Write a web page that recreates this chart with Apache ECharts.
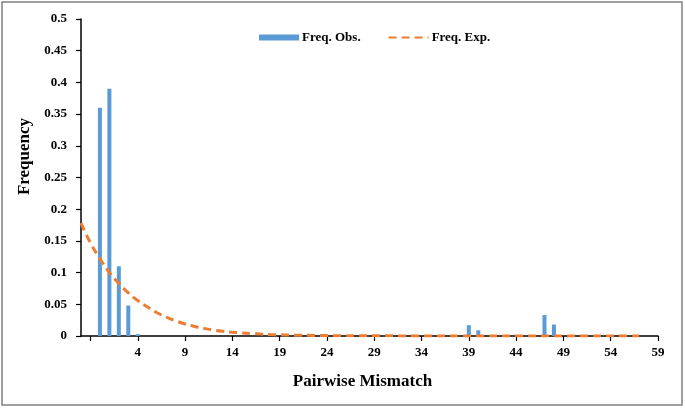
<!DOCTYPE html>
<html>
<head>
<meta charset="utf-8">
<script src="https://cdn.jsdelivr.net/npm/echarts@6/dist/echarts.min.js"></script>
<style>
  html, body { margin: 0; padding: 0; background: #fff; }
  #chart { width: 685px; height: 408px; }
</style>
</head>
<body>
<div id="chart"></div>
<script>
// pairwise mismatch categories (first two slots are unlabeled in the original)
const categories = [
  '', '', '0', '1', '2', '3', '4', '5', '6', '7', '8', '9', '10', '11', '12', '13', '14', '15',
  '16', '17', '18', '19', '20', '21', '22', '23', '24', '25', '26', '27', '28', '29', '30', '31',
  '32', '33', '34', '35', '36', '37', '38', '39', '40', '41', '42', '43', '44', '45', '46', '47',
  '48', '49', '50', '51', '52', '53', '54', '55', '56', '57', '58', '59'
]

const freqObs = [
  0, 0, 0.36, 0.39, 0.11, 0.048, 0.003, 0, 0, 0, 0, 0, 0, 0, 0, 0, 0, 0,
  0, 0, 0, 0, 0, 0, 0, 0, 0, 0, 0, 0, 0, 0, 0, 0,
  0, 0, 0, 0, 0, 0, 0, 0.017, 0.009, 0, 0, 0, 0, 0, 0, 0.033,
  0.018, 0, 0, 0, 0, 0, 0, 0, 0, 0, 0, 0
]

const freqExp = [
  0.178, 0.147, 0.122, 0.1, 0.083, 0.068, 0.056, 0.046, 0.037, 0.03, 0.024, 0.019, 0.015, 0.012, 0.0095, 0.0075, 0.006, 0.0048,
  0.0038, 0.003, 0.0024, 0.0019, 0.0015, 0.0012, 0.001, 0.0008, 0.0006, 0.0005, 0.0004, 0.0003, 0.0003, 0.0002, 0.0002, 0.0002,
  0.0001, 0.0001, 0.0001, 0.0001, 0.0001, 0, 0, 0, 0, 0, 0, 0, 0, 0, 0, 0,
  0, 0, 0, 0, 0, 0, 0, 0, 0, 0, null, null
]

const font = 'Liberation Serif'

const chart = echarts.init(document.getElementById('chart'))
chart.setOption({
  animation: false,
  graphic: [{
    type: 'rect',
    shape: { x: 2, y: 2, width: 680, height: 403 },
    style: { fill: 'none', stroke: '#808080', lineWidth: 1.5 },
    silent: true,
  }],
  legend: {
    left: 254,
    top: 26,
    itemWidth: 40,
    itemHeight: 6,
    itemGap: 27,
    textStyle: { fontFamily: font, fontWeight: 'bold', fontSize: 13, color: '#000', padding: [0, 0, 0, -2] },
    data: [
      { name: 'Freq. Obs.', icon: 'rect' },
      { name: 'Freq. Exp.', itemStyle: { opacity: 0 } },
    ],
  },
  grid: {
    left: 81,
    right: 27,
    top: 19,
    bottom: 72,
    containLabel: false,
  },
  xAxis: {
    type: 'category',
    data: categories,
    boundaryGap: false,
    name: 'Pairwise Mismatch',
    nameLocation: 'middle',
    nameGap: 37,
    nameTextStyle: { fontFamily: font, fontWeight: 'bold', fontSize: 17, color: '#000', padding: [0, 14, 0, 0] },
    axisLine: { lineStyle: { color: '#000', width: 1.5 } },
    axisTick: {
      show: true,
      length: 5,
      interval: (i) => (i - 1) % 5 === 0,
      lineStyle: { color: '#000', width: 1.2 },
    },
    axisLabel: {
      interval: (i) => (i - 1) % 5 === 0,
      fontFamily: font,
      fontWeight: 'bold',
      fontSize: 13,
      color: '#000',
      margin: 10,
    },
    splitLine: { show: false },
  },
  yAxis: {
    type: 'value',
    min: 0,
    max: 0.5,
    interval: 0.05,
    name: 'Frequency',
    nameLocation: 'middle',
    nameGap: 38,
    nameTextStyle: { fontFamily: font, fontWeight: 'bold', fontSize: 17, color: '#000', padding: [0, 0, 0, 42] },
    axisLine: { show: true, lineStyle: { color: '#000', width: 1.5 } },
    axisTick: { show: true, length: 5, lineStyle: { color: '#000', width: 1.2 } },
    axisLabel: {
      fontFamily: font,
      fontWeight: 'bold',
      fontSize: 13,
      color: '#000',
      margin: 14,
      formatter: (v) => String(parseFloat(v.toFixed(2))),
    },
    splitLine: { show: false },
  },
  series: [
    {
      name: 'Freq. Obs.',
      type: 'bar',
      data: freqObs,
      barWidth: 4,
      itemStyle: { color: '#5B9BD5' },
    },
    {
      name: 'Freq. Exp.',
      type: 'line',
      data: freqExp,
      smooth: true,
      symbol: 'none',
      z: 3,
      itemStyle: { color: '#ED7D31' },
      lineStyle: { color: '#ED7D31', width: 3, type: [8, 5] },
    },
  ],
})
</script>
</body>
</html>
